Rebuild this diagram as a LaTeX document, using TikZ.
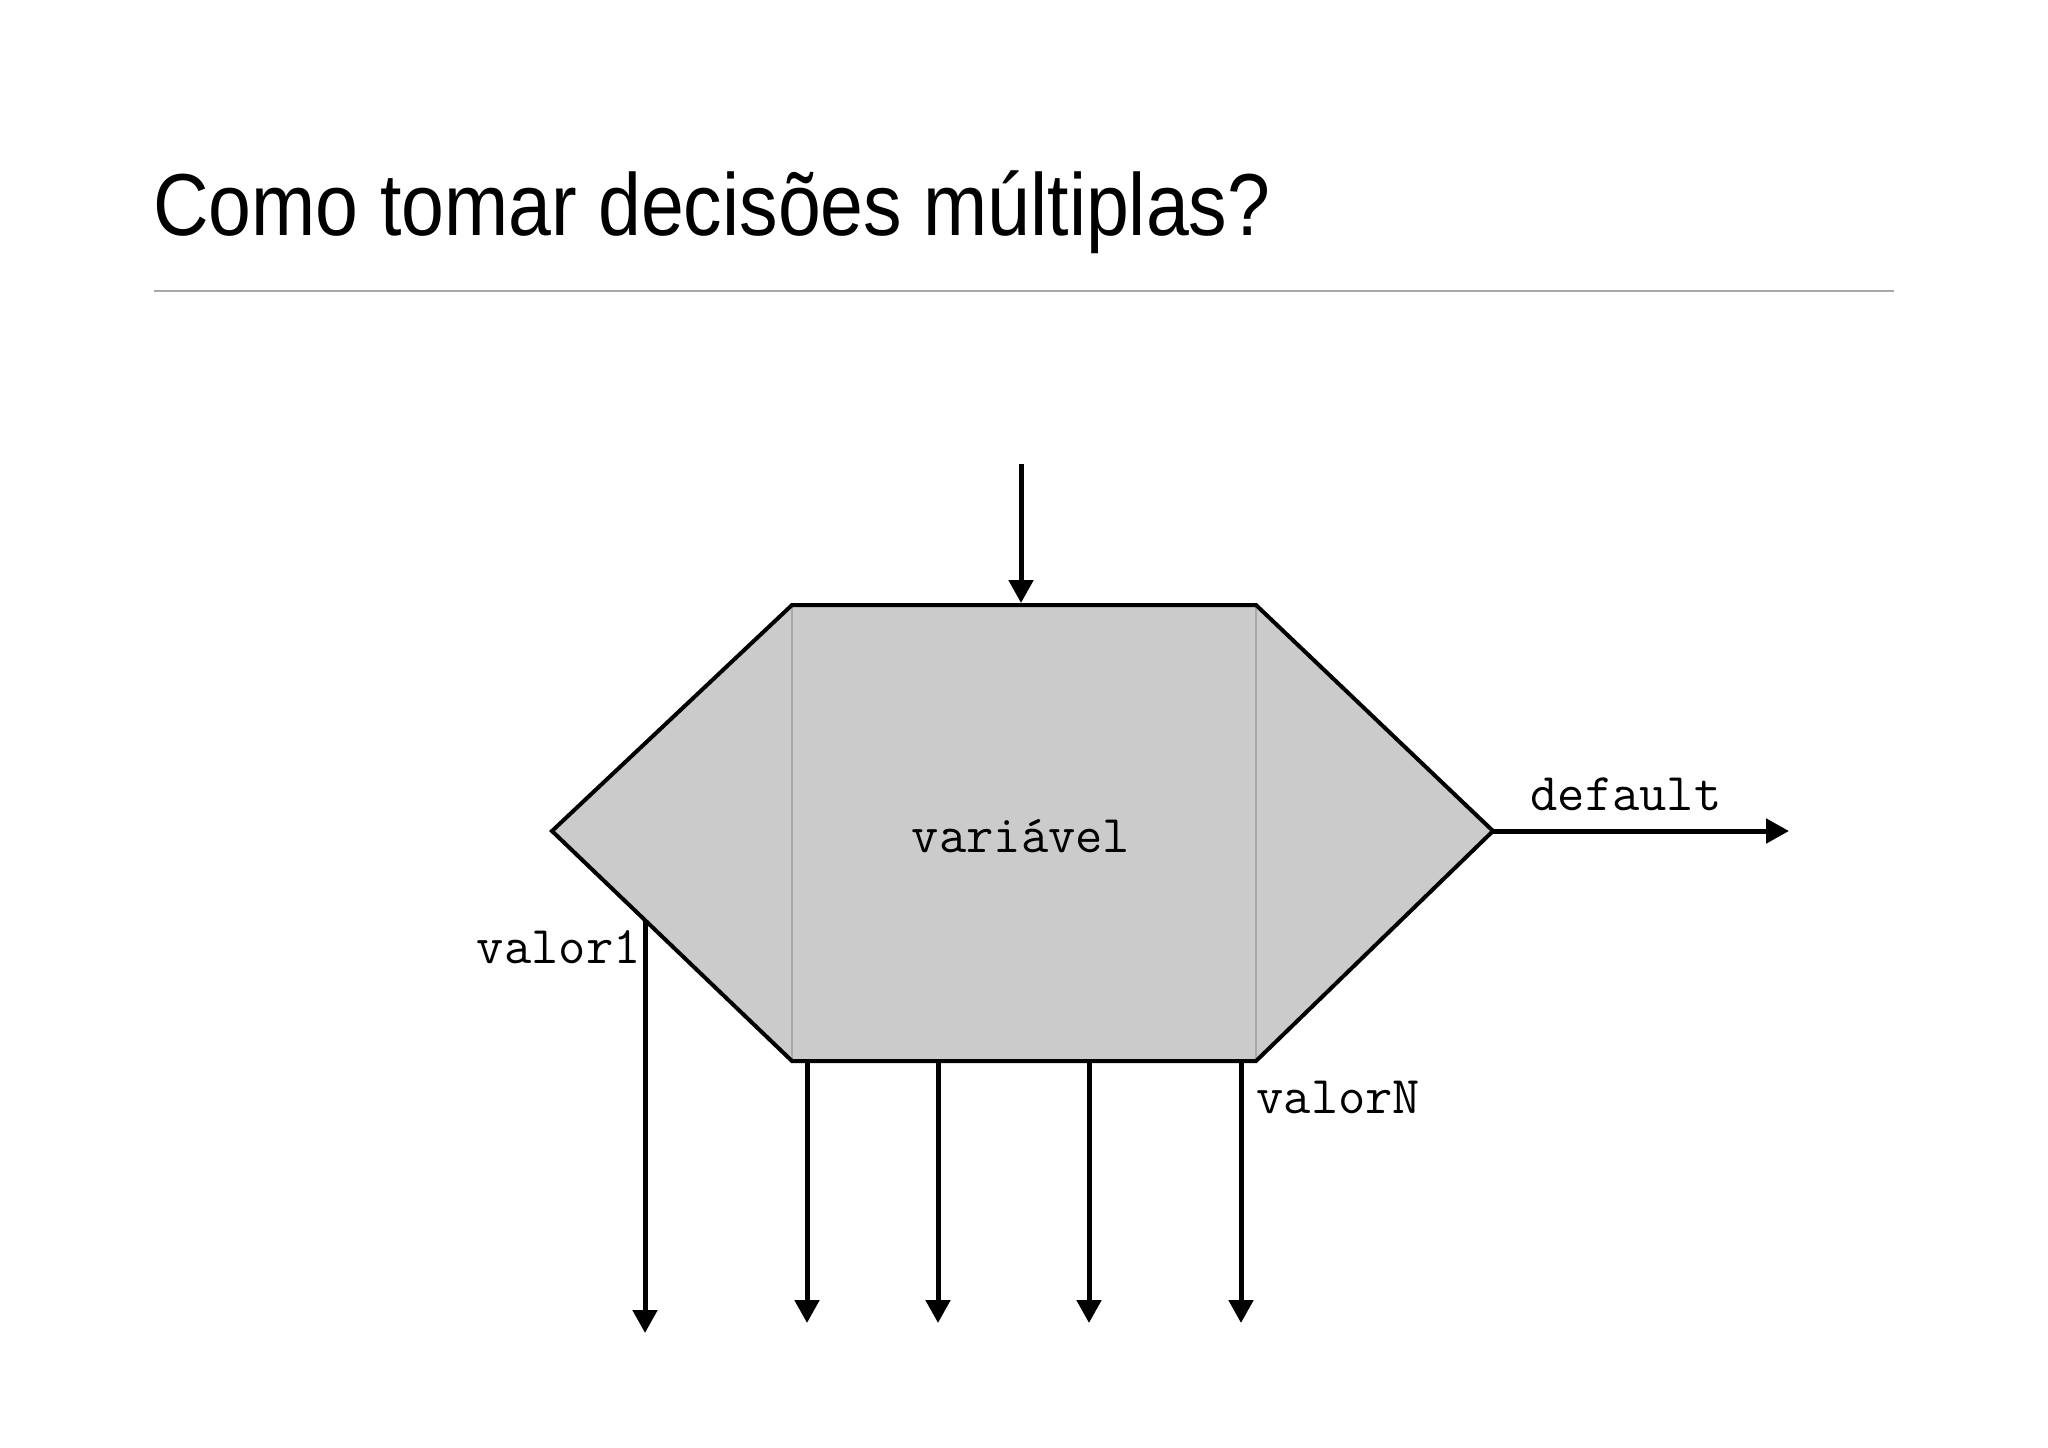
\documentclass[tikz,border=0pt]{standalone}
\usepackage{fontspec}
\setmainfont{Liberation Sans}
\usetikzlibrary{arrows.meta}
\definecolor{hexfill}{HTML}{CBCBCB}
\definecolor{rulegray}{HTML}{A8A8A8}
\begin{document}
\begin{tikzpicture}[x=0.5pt,y=-0.5pt,
  flow/.style={line width=2.5pt,-{Triangle[length=11.5pt,width=12pt]}},
  code/.style={font=\ttfamily\fontsize{26.5pt}{30pt}\selectfont,inner sep=0pt},
  hexedge/.style={line width=2pt,line join=miter}]
\useasboundingbox (0,0) rectangle (2048,1447);
% title
\node[anchor=base west,inner sep=0pt] (title) at (153,235)
  {\scalebox{0.875}[1]{\fontsize{44pt}{50pt}\selectfont Como tomar decisões múltiplas?}};
\draw[rulegray,line width=1pt] (154,291) coordinate (r1) -- (1894,291) coordinate (r2);
% hexagon vertices
\coordinate (L) at (552,831);
\coordinate (TL) at (792,605);
\coordinate (TR) at (1256,605);
\coordinate (R) at (1493,831);
\coordinate (BR) at (1256,1061);
\coordinate (BL) at (792,1061);
\fill[hexfill] (L) -- (TL) -- (TR) -- (R) -- (BR) -- (BL) -- cycle;
\draw[rulegray,line width=0.6pt] (TL) -- (BL) (TR) -- (BR);
\draw[hexedge] (L) -- (TL) -- (TR) -- (R) -- (BR) -- (BL) -- cycle;
\node[code,anchor=center] (var) at (1021,836) {variável};
% input
\coordinate (in0) at (1021,464);
\coordinate (in1) at (1021,603);
\draw[flow] (in0) -- (in1);
% default
\coordinate (def1) at (1789,831);
\draw[flow] (R) -- (def1);
\node[code,anchor=base west] (deflab) at (1530,810) {default};
% valor1
\coordinate (v1a) at (645,920);
\coordinate (v1b) at (645,1333);
\draw[flow] (v1a) -- (v1b);
\node[code,anchor=base east] (v1lab) at (641,963) {valor1};
% other outputs
\foreach \x/\n in {807/a,938/b,1089/c,1241/d}{
  \coordinate (o\n0) at (\x,1061);
  \coordinate (o\n1) at (\x,1323);
  \draw[flow] (o\n0) -- (o\n1);
}
\node[code,anchor=base west] (vNlab) at (1256,1113) {valorN};
\end{tikzpicture}
\end{document}
